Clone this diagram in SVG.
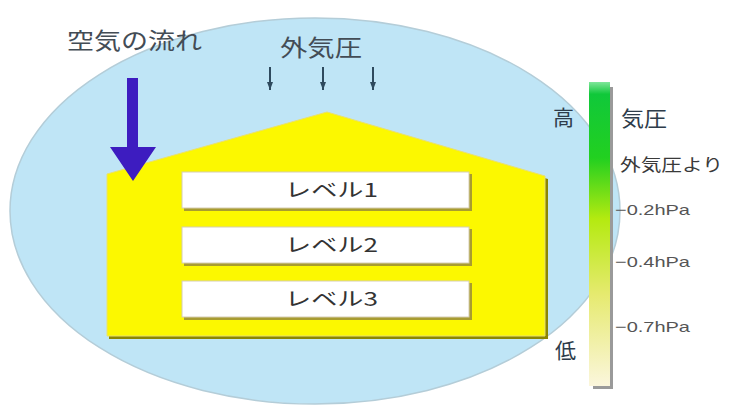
<svg xmlns="http://www.w3.org/2000/svg" width="735" height="411" viewBox="0 0 735 411">
  <defs>
    <linearGradient id="pressureScale" x1="0" y1="0" x2="0" y2="1">
      <stop offset="0" stop-color="#7fe69a"/>
      <stop offset="0.04" stop-color="#10c83a"/>
      <stop offset="0.25" stop-color="#22d020"/>
      <stop offset="0.45" stop-color="#b4ea10"/>
      <stop offset="0.7" stop-color="#e6ea70"/>
      <stop offset="1" stop-color="#fbf6dc"/>
    </linearGradient>
    <marker id="smallHead" viewBox="0 0 8 6" refX="8" refY="3" markerWidth="8" markerHeight="6" markerUnits="userSpaceOnUse" orient="auto">
      <path d="M0,0 L8,3 L0,6 Z" fill="#2e4a5e"/>
    </marker>
  </defs>
  <style>
    .jp { font-family: "Noto Sans CJK JP", "Noto Sans", sans-serif; }
    .title { font-size: 23px; fill: #434c55; }
    .side { font-size: 21px; fill: #2e3c4a; }
    .note { font-size: 17px; fill: #3a3a3a; }
    .tick { font-family: "Liberation Sans", Arial, sans-serif; font-size: 15px; fill: #555; }
    .lvl { font-size: 19px; fill: #333; }
    .shadow { fill: #8c8600; }
    .box { fill: #ffffff; stroke: #d6cdb0; stroke-width: 1; }
    .boxShadow { fill: #a89c30; }
    .flowline { stroke: #2e4a5e; stroke-width: 2; }
  </style>

  <rect width="735" height="411" fill="#ffffff"/>

  <!-- outside air -->
  <g id="outside-air">
    <ellipse cx="315" cy="211" rx="305" ry="193" fill="#bfe5f6" stroke="#b4cdd8" stroke-width="1.5"/>
  </g>

  <!-- building -->
  <g id="building">
    <polygon class="shadow" points="109,177 329,115 548,179 548,339 109,339"/>
    <polygon points="107,174 327,112 545,176 545,336 107,336" fill="#fcf800" stroke="#e8e070" stroke-width="1"/>
  </g>

  <g id="level-1">
    <rect class="boxShadow" x="184" y="174" width="288" height="37"/>
    <rect class="box" x="182" y="172" width="287" height="36"/>
    <text class="jp lvl" x="285" y="197" textLength="93" lengthAdjust="spacingAndGlyphs">レベル1</text>
  </g>
  <g id="level-2">
    <rect class="boxShadow" x="184" y="229" width="288" height="37"/>
    <rect class="box" x="182" y="227" width="287" height="36"/>
    <text class="jp lvl" x="285" y="252" textLength="93" lengthAdjust="spacingAndGlyphs">レベル2</text>
  </g>
  <g id="level-3">
    <rect class="boxShadow" x="184" y="283" width="288" height="37"/>
    <rect class="box" x="182" y="281" width="287" height="36"/>
    <text class="jp lvl" x="285" y="306" textLength="93" lengthAdjust="spacingAndGlyphs">レベル3</text>
  </g>

  <!-- air flow into the building -->
  <g id="connectors">
    <polygon points="127,78 138,78 138,147 156,147 133,181 110,147 127,147" fill="#3d1cc0"/>
    <line class="flowline" x1="270" y1="67" x2="270" y2="90" marker-end="url(#smallHead)"/>
    <line class="flowline" x1="323" y1="67" x2="323" y2="90" marker-end="url(#smallHead)"/>
    <line class="flowline" x1="373" y1="67" x2="373" y2="90" marker-end="url(#smallHead)"/>
  </g>

  <g id="labels">
    <text class="jp title" x="67" y="49" textLength="135" lengthAdjust="spacingAndGlyphs">空気の流れ</text>
    <text class="jp title" x="280" y="56" textLength="82" lengthAdjust="spacingAndGlyphs">外気圧</text>
  </g>

  <!-- pressure scale -->
  <g id="scale">
    <rect x="593" y="87" width="20" height="302" fill="#9a9a9a"/>
    <rect x="589" y="82" width="21" height="304" fill="url(#pressureScale)"/>
    <text class="jp side" x="553" y="125">高</text>
    <text class="jp side" x="555" y="358">低</text>
    <text class="jp side" x="621" y="126" textLength="46" lengthAdjust="spacingAndGlyphs">気圧</text>
    <text class="jp note" x="620" y="171" textLength="103" lengthAdjust="spacingAndGlyphs">外気圧より</text>
    <text class="tick" x="615" y="215" textLength="75" lengthAdjust="spacingAndGlyphs">−0.2hPa</text>
    <text class="tick" x="615" y="267" textLength="75" lengthAdjust="spacingAndGlyphs">−0.4hPa</text>
    <text class="tick" x="615" y="332" textLength="75" lengthAdjust="spacingAndGlyphs">−0.7hPa</text>
  </g>
</svg>
